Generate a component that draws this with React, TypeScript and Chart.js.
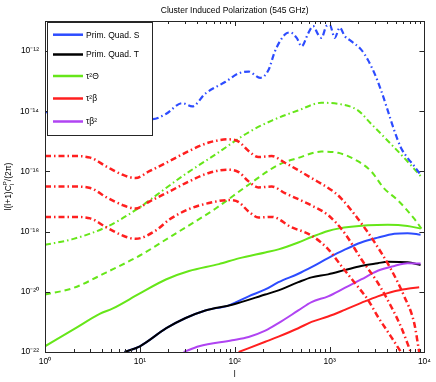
import React, { useEffect, useRef } from "react";
import { Chart, registerables } from "chart.js";
Chart.register(...registerables);

const titleText = "Cluster Induced Polarization (545 GHz)";
const xTickValues = [1, 10, 100, 1000, 10000];
const yTickValues = [1e-22, 1e-20, 1e-18, 1e-16, 1e-14, 1e-12];
const legendLabels = ["Prim. Quad. S", "Prim. Quad. T", "τ²Θ", "τ²β", "τβ²"];
const legendColors = ["#2d4cff", "#000000", "#66e619", "#ff1f1f", "#b044f2"];

// solid curves
const lPrimS = [6.9, 10, 19, 30, 49, 87, 140, 210, 289, 468, 645, 964, 1443, 2153, 3220, 4820, 6640, 9100];
const primS = [1e-22, 1.55e-22, 6.17e-22, 1.32e-21, 2.4e-21, 3.55e-21, 7.08e-21, 1.2e-20, 2.09e-20, 3.98e-20, 6.61e-20, 1.32e-19, 2.51e-19, 4.37e-19, 6.31e-19, 8.51e-19, 8.91e-19, 7.94e-19];

const lPrimT = [6.9, 10, 19, 30, 49, 94, 210, 289, 468, 645, 964, 1443, 2153, 3220, 4100, 6640, 9100];
const primT = [1e-22, 1.55e-22, 6.17e-22, 1.32e-21, 2.4e-21, 3.72e-21, 8.13e-21, 1.12e-20, 2.09e-20, 3.02e-20, 3.8e-20, 5.25e-20, 7.24e-20, 8.91e-20, 1e-19, 9.55e-20, 7.76e-20];

const lTau2Theta = [1, 2, 3.77, 5.2, 9.9, 18.8, 33, 68, 110, 210, 289, 468, 645, 964, 1227, 2530, 4100, 6640, 9100];
const tau2Theta = [1.55e-22, 5.62e-22, 1.86e-21, 2.82e-21, 8.71e-21, 2.57e-20, 4.9e-20, 8.32e-20, 1.29e-19, 2.04e-19, 2.57e-19, 4.37e-19, 6.61e-19, 1.05e-18, 1.26e-18, 1.62e-18, 1.7e-18, 1.55e-18, 1.26e-18];

const lTau2Beta = [110, 210, 289, 468, 645, 964, 1443, 2153, 3220, 4820, 6640, 8800];
const tau2Beta = [1e-22, 2.19e-22, 3.24e-22, 6.17e-22, 1.0e-21, 1.51e-21, 2.51e-21, 4.27e-21, 7.08e-21, 1.05e-20, 1.26e-20, 1.41e-20];

const lTauBeta2 = [29, 42, 94, 140, 210, 289, 468, 645, 964, 1443, 2153, 3220, 4820, 6640, 9100];
const tauBeta2 = [1e-22, 1.55e-22, 2.45e-22, 3.16e-22, 5.13e-22, 9.12e-22, 2.4e-21, 4.57e-21, 7.08e-21, 1.35e-20, 2.57e-20, 5.0e-20, 7.24e-20, 8.91e-20, 8.71e-20];

// dashed / dash-dot curves
const lTau2ThetaDash = [1, 2, 4.4, 9.9, 22, 33, 63, 140, 289, 468, 821, 1227, 1988, 2750, 3750, 5215, 7800, 9300];
const tau2ThetaDash = [8.13e-21, 1.35e-20, 4.37e-20, 1.58e-19, 7.41e-19, 1.62e-18, 5.89e-18, 3.63e-17, 1.66e-16, 2.82e-16, 4.57e-16, 4.17e-16, 2.19e-16, 1.0e-16, 2.75e-17, 1.12e-17, 2.69e-18, 1.26e-18];

const lTau2ThetaDD = [1, 2, 4.4, 9.9, 13.5, 28, 63, 140, 246, 468, 821, 1227, 1988, 2750, 4100, 6120, 9530];
const tau2ThetaDD = [3.63e-19, 5.75e-19, 1.41e-18, 6.31e-18, 1.29e-17, 6.92e-17, 3.72e-16, 2.0e-15, 4.9e-15, 1.07e-14, 1.91e-14, 1.78e-14, 1.07e-14, 3.8e-15, 1.05e-15, 2.82e-16, 6.03e-17];

const lBetaHigh = [1, 2, 3, 4.4, 6.6, 9, 12.6, 20.4, 33, 53.4, 86, 110, 140, 178, 246, 338, 645, 1133, 1330, 1988, 2975, 4440, 6120, 7800, 8800];
const betaHigh = [3.24e-16, 3.24e-16, 2.88e-16, 1.48e-16, 7.76e-17, 6.03e-17, 1.02e-16, 2.19e-16, 4.79e-16, 9.12e-16, 1.17e-15, 9.77e-16, 4.79e-16, 3.02e-16, 3.24e-16, 1.95e-16, 6.03e-17, 2.0e-17, 1.26e-17, 2.69e-18, 4.47e-19, 5.62e-20, 7.08e-21, 9.12e-22, 1e-22];

const lBetaMid = [1, 2, 3, 4.4, 6.6, 9, 12.6, 20.4, 33, 53.4, 86, 110, 140, 178, 246, 338, 645, 964, 1443, 2153, 3220, 4440, 5650, 7170];
const betaMid = [3.16e-17, 3.16e-17, 2.82e-17, 1.41e-17, 7.59e-18, 5.89e-18, 1.0e-17, 2.14e-17, 4.68e-17, 8.91e-17, 1.15e-16, 9.55e-17, 4.68e-17, 2.95e-17, 3.16e-17, 1.91e-17, 7.41e-18, 3.55e-18, 8.91e-19, 1.23e-19, 2.0e-20, 3.31e-21, 6.92e-22, 1e-22];

const lBetaLow = [1, 2, 3, 4.4, 6.6, 9, 14.8, 20.4, 33, 53.4, 86, 110, 140, 178, 246, 396, 645, 964, 1330, 1837, 2530, 3220, 4440, 5650];
const betaLow = [3.09e-18, 3.09e-18, 2.75e-18, 1.41e-18, 7.41e-19, 5.75e-19, 1.1e-18, 2.51e-18, 5.62e-18, 8.91e-18, 1.12e-17, 9.55e-18, 4.68e-18, 2.95e-18, 3.09e-18, 1.41e-18, 7.41e-19, 2.63e-19, 7.24e-20, 2.0e-20, 5.5e-21, 1.51e-21, 3.24e-22, 1e-22];

const lPrimSDD = [1, 3, 8, 13.6, 18.8, 28, 35.7, 49, 80, 110, 140, 185, 227, 265, 338, 383, 450, 507, 595, 670, 758, 821, 925, 1005, 1133, 1280, 1443, 1690, 2153, 2530, 2975, 3485, 4100, 4820, 5650, 6640, 7800, 9100];
const primSDD = [9.33e-15, 7.94e-15, 6.03e-15, 5.5e-15, 8.13e-15, 1.86e-14, 1.45e-14, 3.89e-14, 9.55e-14, 1.82e-13, 2.09e-13, 1.29e-13, 2.34e-13, 9.77e-13, 3.55e-12, 4.17e-12, 2.75e-12, 1.45e-12, 3.89e-12, 6.76e-12, 3.55e-12, 2.75e-12, 6.76e-12, 7.41e-12, 2.75e-12, 6.03e-12, 3.16e-12, 2.14e-12, 1.12e-12, 5.13e-13, 1.82e-13, 5.01e-14, 1.07e-14, 2.24e-15, 6.17e-16, 2.82e-16, 1.51e-16, 7.76e-17];

const FONT = "'Liberation Sans', Arial, Helvetica, sans-serif";
const supMap: Record<string, string> = { "0": "⁰", "1": "¹", "2": "²", "3": "³", "4": "⁴", "5": "⁵", "6": "⁶", "7": "⁷", "8": "⁸", "9": "⁹", "-": "⁻" };
const powLabel = (v: number) =>
  "10" + String(Math.round(Math.log10(v))).split("").map((c) => supMap[c] || c).join("");

const pts = (xs: number[], ys: number[]) => xs.map((x, i) => ({ x, y: ys[i] }));

const framePlugin = {
  id: "framePlugin",
  afterDraw(chart: any) {
    const { ctx, chartArea: a, scales } = chart;
    const xs = scales.x;
    const ys = scales.y;
    ctx.save();
    ctx.strokeStyle = "#262626";
    ctx.lineWidth = 1;
    ctx.beginPath();
    for (let k = 0; k < 4; k++) {
      for (let m = 1; m <= 9; m++) {
        const v = m * Math.pow(10, k);
        const px = Math.round(xs.getPixelForValue(v)) + 0.5;
        const len = m === 1 ? 5 : 3;
        ctx.moveTo(px, a.bottom);
        ctx.lineTo(px, a.bottom - len);
        ctx.moveTo(px, a.top);
        ctx.lineTo(px, a.top + len);
      }
    }
    yTickValues.forEach((v) => {
      const py = Math.round(ys.getPixelForValue(v)) + 0.5;
      ctx.moveTo(a.left, py);
      ctx.lineTo(a.left + 5, py);
      ctx.moveTo(a.right, py);
      ctx.lineTo(a.right - 5, py);
    });
    ctx.stroke();
    ctx.strokeRect(Math.round(a.left) + 0.5, Math.round(a.top) + 0.5, Math.round(a.right - a.left), Math.round(a.bottom - a.top));

    // legend
    const lx = 47, ly = 22, lw = 105, lh = 113;
    ctx.fillStyle = "#ffffff";
    ctx.fillRect(lx, ly, lw, lh);
    ctx.strokeStyle = "#262626";
    ctx.strokeRect(lx + 0.5, ly + 0.5, lw, lh);
    const rows = [34.7, 54.5, 76, 98.5, 121.5];
    ctx.font = `8.5px ${FONT}`;
    ctx.textBaseline = "middle";
    ctx.textAlign = "left";
    legendLabels.forEach((lab, i) => {
      ctx.strokeStyle = legendColors[i];
      ctx.lineWidth = 2.5;
      ctx.beginPath();
      ctx.moveTo(53, rows[i]);
      ctx.lineTo(83, rows[i]);
      ctx.stroke();
      ctx.fillStyle = "#000";
      ctx.fillText(lab, 86, rows[i] + 0.5);
    });

    // title
    ctx.fillStyle = "#000";
    ctx.textAlign = "center";
    ctx.font = `8.5px ${FONT}`;
    ctx.fillText(titleText, (a.left + a.right) / 2, 11);
    // x label
    ctx.fillText("l", (a.left + a.right) / 2, 375);

    // y label with sub/superscript
    ctx.translate(9, (a.top + a.bottom) / 2);
    ctx.rotate(-Math.PI / 2);
    const big = `8.5px ${FONT}`;
    const small = `6px ${FONT}`;
    const p1 = "l(l+1)C";
    const p2 = "/(2π)";
    ctx.font = big;
    const w1 = ctx.measureText(p1).width;
    const w3 = ctx.measureText(p2).width;
    ctx.font = small;
    const w2 = Math.max(ctx.measureText("P").width, ctx.measureText("l").width);
    const total = w1 + w2 + w3;
    let cx = -total / 2;
    ctx.textAlign = "left";
    ctx.font = big;
    ctx.fillText(p1, cx, 0);
    cx += w1;
    ctx.font = small;
    ctx.fillText("P", cx, -3.5);
    ctx.fillText("l", cx, 3);
    cx += w2;
    ctx.font = big;
    ctx.fillText(p2, cx, 0);
    ctx.restore();
  },
};

export default function App() {
  const ref = useRef<HTMLCanvasElement | null>(null);
  useEffect(() => {
    if (!ref.current) return;
    const ds = (
      label: string,
      xs: number[],
      ys: number[],
      color: string,
      width: number,
      dash: number[],
      order: number
    ) => ({
      label,
      data: pts(xs, ys),
      showLine: true,
      borderColor: color,
      backgroundColor: color,
      borderWidth: width,
      borderDash: dash,
      pointRadius: 0,
      cubicInterpolationMode: "monotone",
      fill: false,
      order,
    });
    const chart = new Chart(ref.current, {
      type: "scatter",
      data: {
        datasets: [
          ds("Prim. Quad. S", lPrimS, primS, legendColors[0], 2, [], 10),
          ds("Prim. Quad. T", lPrimT, primT, legendColors[1], 2, [], 9),
          ds("τ²Θ", lTau2Theta, tau2Theta, legendColors[2], 2, [], 8),
          ds("τ²β", lTau2Beta, tau2Beta, legendColors[3], 2, [], 7),
          ds("τβ²", lTauBeta2, tauBeta2, legendColors[4], 2, [], 6),
          ds("τ²Θ dashed", lTau2ThetaDash, tau2ThetaDash, legendColors[2], 2, [6, 4], 5),
          ds("τ²Θ dash-dot", lTau2ThetaDD, tau2ThetaDD, legendColors[2], 2, [6, 3, 1.5, 3], 4),
          ds("τ²β high", lBetaHigh, betaHigh, legendColors[3], 2.5, [6, 3, 1.5, 3], 3),
          ds("τ²β mid", lBetaMid, betaMid, legendColors[3], 2.5, [6, 3, 1.5, 3], 2),
          ds("τ²β low", lBetaLow, betaLow, legendColors[3], 2.5, [6, 3, 1.5, 3], 1),
          ds("Prim. Quad. S dash-dot", lPrimSDD, primSDD, legendColors[0], 2.2, [6, 3, 1.5, 3], 0),
        ],
      } as any,
      options: {
        responsive: false,
        animation: false,
        events: [],
        layout: { padding: { top: 21, right: 11, left: 0, bottom: 0 } },
        plugins: { legend: { display: false }, tooltip: { enabled: false }, title: { display: false } },
        scales: {
          x: {
            type: "logarithmic",
            min: 1,
            max: 10000,
            grid: { display: false, drawTicks: false },
            border: { display: false },
            afterBuildTicks: (s: any) => {
              s.ticks = xTickValues.map((v) => ({ value: v }));
            },
            afterFit: (s: any) => {
              s.height = 30;
            },
            ticks: {
              autoSkip: false,
              maxRotation: 0,
              padding: 5,
              color: "#000",
              font: { family: FONT, size: 8.5 },
              callback: (v: any) => powLabel(Number(v)),
            },
          },
          y: {
            type: "logarithmic",
            min: 1e-22,
            max: 1e-11,
            grid: { display: false, drawTicks: false },
            border: { display: false },
            afterBuildTicks: (s: any) => {
              s.ticks = yTickValues.map((v) => ({ value: v }));
            },
            afterFit: (s: any) => {
              s.width = 45;
            },
            ticks: {
              autoSkip: false,
              padding: 6,
              color: "#000",
              font: { family: FONT, size: 8.5 },
              callback: (v: any) => powLabel(Number(v)),
            },
          },
        },
      } as any,
      plugins: [framePlugin],
    });
    return () => chart.destroy();
  }, []);
  return (
    <div style={{ position: "fixed", left: 0, top: 0, width: 436, height: 382, background: "#fff" }}>
      <canvas ref={ref} width={436} height={382} style={{ display: "block", width: 436, height: 382 }} />
    </div>
  );
}
